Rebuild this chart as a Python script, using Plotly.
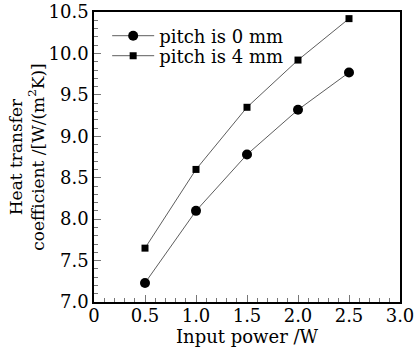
import plotly.graph_objects as go

power = [0.5, 1.0, 1.5, 2.0, 2.5]
pitch0 = [7.23, 8.10, 8.78, 9.32, 9.77]
pitch4 = [7.65, 8.60, 9.35, 9.92, 10.42]
names = ["pitch is 0 mm", "pitch is 4 mm"]
xticks = [0, 0.5, 1.0, 1.5, 2.0, 2.5, 3.0]
xticklabels = ["0", "0.5", "1.0", "1.5", "2.0", "2.5", "3.0"]

FONT = "DejaVu Serif"
fig = go.Figure()
fig.add_trace(go.Scatter(x=power, y=pitch0, name=names[0], mode="lines+markers",
                         line=dict(color="#333", width=0.8), legend="legend",
                         marker=dict(symbol="circle", size=10, color="black")))
fig.add_trace(go.Scatter(x=power, y=pitch4, name=names[1], mode="lines+markers",
                         line=dict(color="#333", width=0.8), legend="legend2",
                         marker=dict(symbol="square", size=7, color="black")))

axis_common = dict(showgrid=False, zeroline=False, showline=True, linecolor="black",
                   linewidth=1.5, mirror=True, ticks="inside", ticklen=7, automargin=False,
                   tickcolor="#777", tickfont=dict(family=FONT, size=18, color="black"))
fig.update_xaxes(range=[0, 3.0], tickvals=xticks, ticktext=xticklabels,
                 ticklabelstandoff=-3,
                 minor=dict(dtick=0.1, ticks="inside", ticklen=4, tickcolor="#777"),
                 title=dict(text="Input power /W", font=dict(family=FONT, size=18, color="black"), standoff=0),
                 **axis_common)
fig.update_yaxes(range=[7.0, 10.5], dtick=0.5, tickformat=".1f",
                 minor=dict(dtick=0.1, ticks="inside", ticklen=4, tickcolor="#777"),
                 title=dict(text="Heat transfer<br>coefficient /[W/(m<sup>2</sup>K)]",
                            font=dict(family=FONT, size=17, color="black"), standoff=0),
                 **axis_common)

leg = dict(xanchor="left", yanchor="middle", bgcolor="rgba(0,0,0,0)",
           font=dict(family=FONT, size=18, color="black"), itemwidth=42)
fig.update_layout(
    width=416, height=349,
    margin=dict(l=94, r=16, t=12, b=47),
    plot_bgcolor="white", paper_bgcolor="white",
    showlegend=True,
    legend=dict(x=0.043, y=1 - (36 - 12) / 290, **leg),
    legend2=dict(x=0.043, y=1 - (56 - 12) / 290, **leg),
)
fig.write_html("out.html")
